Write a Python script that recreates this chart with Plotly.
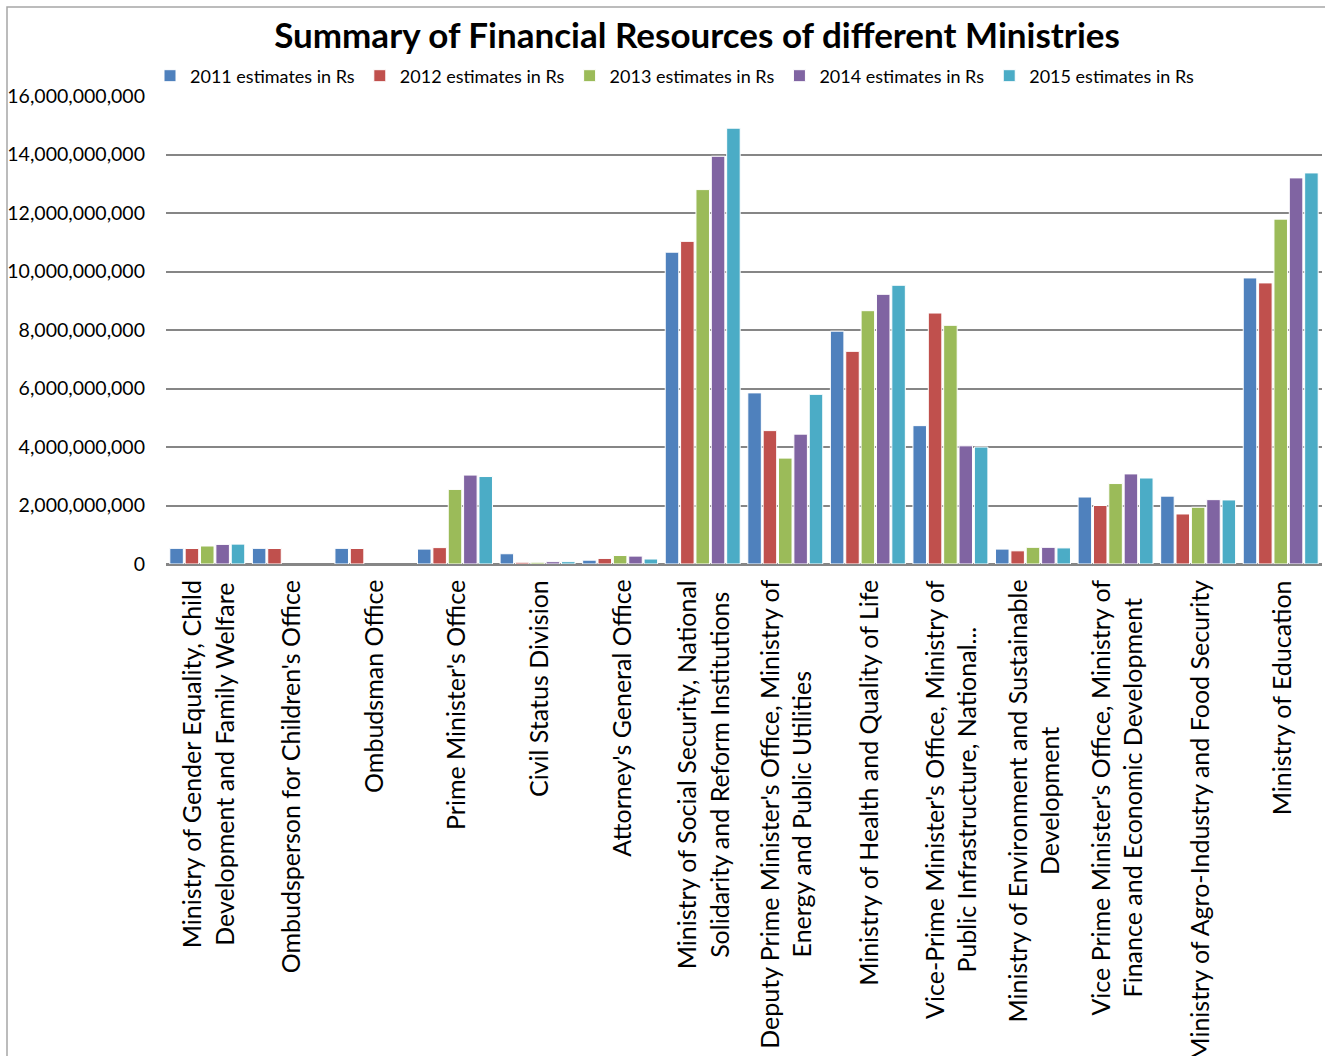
import plotly.graph_objects as go

categories = [
    "Ministry of Gender Equality, Child<br>Development and Family Welfare",
    "Ombudsperson for Children's Office",
    "Ombudsman Office",
    "Prime Minister's Office",
    "Civil Status Division",
    "Attorney's General Office",
    "Ministry of Social Security, National<br>Solidarity and Reform Institutions",
    "Deputy Prime Minister's Office, Ministry of<br>Energy and Public Utilities",
    "Ministry of Health and Quality of Life",
    "Vice-Prime Minister's Office, Ministry of<br>Public Infrastructure, National...",
    "Ministry of Environment and Sustainable<br>Development",
    "Vice Prime Minister's Office, Ministry of<br>Finance and Economic Development",
    "Ministry of Agro-Industry and Food Security",
    "Ministry of Education",
]

series_names = ["2011 estimates in Rs", "2012 estimates in Rs", "2013 estimates in Rs",
                "2014 estimates in Rs", "2015 estimates in Rs"]

est_2011 = [535e6, 535e6, 535e6, 510e6, 350e6, 130e6, 10.66e9, 5.85e9, 7.96e9, 4.73e9, 510e6, 2.29e9, 2.32e9, 9.78e9]
est_2012 = [530e6, 530e6, 530e6, 560e6, 60e6, 190e6, 11.03e9, 4.56e9, 7.27e9, 8.58e9, 450e6, 2.00e9, 1.71e9, 9.61e9]
est_2013 = [615e6, None, None, 2.55e9, 60e6, 290e6, 12.80e9, 3.62e9, 8.66e9, 8.16e9, 570e6, 2.75e9, 1.94e9, 11.79e9]
est_2014 = [670e6, None, None, 3.04e9, 80e6, 270e6, 13.94e9, 4.44e9, 9.22e9, 4.04e9, 570e6, 3.08e9, 2.20e9, 13.20e9]
est_2015 = [680e6, None, None, 2.99e9, 80e6, 170e6, 14.90e9, 5.80e9, 9.53e9, 4.00e9, 550e6, 2.94e9, 2.19e9, 13.37e9]

colors = ["#4F81BD", "#C0504D", "#9BBB59", "#8064A2", "#4BACC6"]
all_series = [est_2011, est_2012, est_2013, est_2014, est_2015]

FONT = "Lato"

fig = go.Figure()
for name, vals, col in zip(series_names, all_series, colors):
    fig.add_trace(go.Bar(
        x=categories, y=vals, name=name,
        marker=dict(color=col, line=dict(color="white", width=1)),
    ))

W, H = 1325, 1056
ml, mr, mt, mb = 166, 3, 96, 492
pw, ph = W - ml - mr, H - mt - mb

fig.update_layout(
    width=W, height=H,
    margin=dict(l=ml, r=mr, t=mt, b=mb, autoexpand=False),
    paper_bgcolor="white", plot_bgcolor="white",
    barmode="group", bargap=0.07, bargroupgap=0.12,
    font=dict(family=FONT, color="black"),
    title=dict(text="<b>Summary of Financial Resources of different Ministries</b>",
               x=697 / W, xref="container", xanchor="center",
               y=1 - 36 / H, yref="container", yanchor="middle",
               font=dict(family=FONT, size=35, color="black")),
    legend=dict(orientation="h", x=(150 - ml) / pw, xanchor="left",
                y=1 + (96 - 76) / ph, yanchor="middle",
                font=dict(family=FONT, size=18, color="black"),
                itemwidth=30, tracegroupgap=0,
                bgcolor="rgba(0,0,0,0)"),
    yaxis=dict(range=[0, 16e9], dtick=2e9, tickformat=",d",
               showgrid=True, gridcolor="#868686", gridwidth=2,
               zeroline=True, zerolinecolor="#868686", zerolinewidth=2,
               showline=False, ticks="", ticklabelstandoff=20,
               tickfont=dict(family=FONT, size=19.5, color="black")),
    xaxis=dict(showline=True, linecolor="#868686", linewidth=2,
               ticks="", showticklabels=False),
    showlegend=True,
)

# category labels: rotated, lines centered like the reference
for cat in categories:
    fig.add_annotation(x=cat, xref="x", y=0, yref="paper",
                       text=cat, textangle=-90, showarrow=False,
                       xanchor="center", yanchor="top", yshift=-14,
                       align="center",
                       font=dict(family=FONT, size=25, color="black"))

# chart area border (extends beyond visible page like the reference)
fig.add_shape(type="rect", xref="paper", yref="paper", layer="below",
              x0=(7 - ml) / pw, x1=(W + 20 - ml) / pw,
              y0=-(H + 20 - mt - ph) / ph, y1=1 + (mt - 7) / ph,
              line=dict(color="#A6A6A6", width=1.5), fillcolor="rgba(0,0,0,0)")

fig.write_html("out.html")
